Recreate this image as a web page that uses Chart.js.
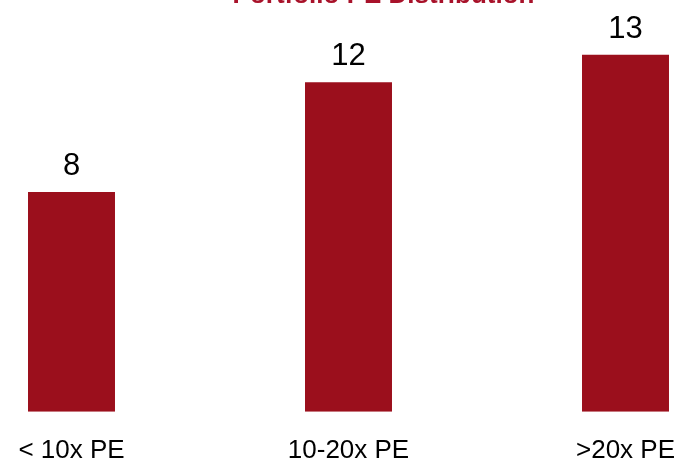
<!DOCTYPE html>
<html>
<head>
<meta charset="utf-8">
<script src="https://cdn.jsdelivr.net/npm/chart.js@4/dist/chart.umd.min.js"></script>
<style>
  html, body { margin: 0; padding: 0; background: #fff; overflow: hidden; }
  body { width: 676px; height: 462px; position: relative; }
  #peChart { position: absolute; left: -67px; top: -20px; }
</style>
</head>
<body>
<canvas id="peChart" width="901" height="501"></canvas>
<script>
// PE buckets and number of holdings in each
const categories = ['< 10x PE', '10-20x PE', '>20x PE'];
const holdings = [8, 12, 13];

const barColor = '#9b0f1c';
const fontFamily = '"Liberation Sans", Arial, sans-serif';

// Writes each bar's count just above it
const valueLabels = {
  id: 'valueLabels',
  afterDatasetsDraw(chart) {
    const ctx = chart.ctx;
    const meta = chart.getDatasetMeta(0);
    ctx.save();
    ctx.font = '31px ' + fontFamily;
    ctx.fillStyle = '#000';
    ctx.textAlign = 'center';
    ctx.textBaseline = 'alphabetic';
    meta.data.forEach((bar, i) => {
      ctx.fillText(String(chart.data.datasets[0].data[i]), bar.x, bar.y - 17);
    });
    ctx.restore();
  }
};

const ctx = document.getElementById('peChart').getContext('2d');
const peChart = new Chart(ctx, {
  type: 'bar',
  data: {
    labels: categories,
    datasets: [{
      data: holdings,
      backgroundColor: barColor,
      borderWidth: 0,
      barPercentage: 0.314,
      categoryPercentage: 1
    }]
  },
  options: {
    responsive: false,
    animation: false,
    layout: { padding: 0 },
    plugins: {
      legend: { display: false },
      tooltip: { enabled: false },
      title: {
        display: true,
        text: 'Portfolio PE Distribution',
        color: '#a8122a',
        font: { family: fontFamily, size: 26, weight: 'bold' },
        padding: { top: 0, bottom: 16 }
      }
    },
    scales: {
      x: {
        grid: { display: false },
        border: { display: false },
        ticks: {
          color: '#000',
          padding: 15,
          font: { family: fontFamily, size: 26 }
        }
      },
      y: {
        display: false,
        min: 0,
        max: 14
      },
      // empty axis on the right, only reserves room
      spacer: {
        position: 'right',
        grid: { display: false },
        border: { display: false },
        ticks: { display: false },
        afterFit(scale) { scale.width = 70; }
      }
    }
  },
  plugins: [valueLabels]
});
</script>
</body>
</html>
